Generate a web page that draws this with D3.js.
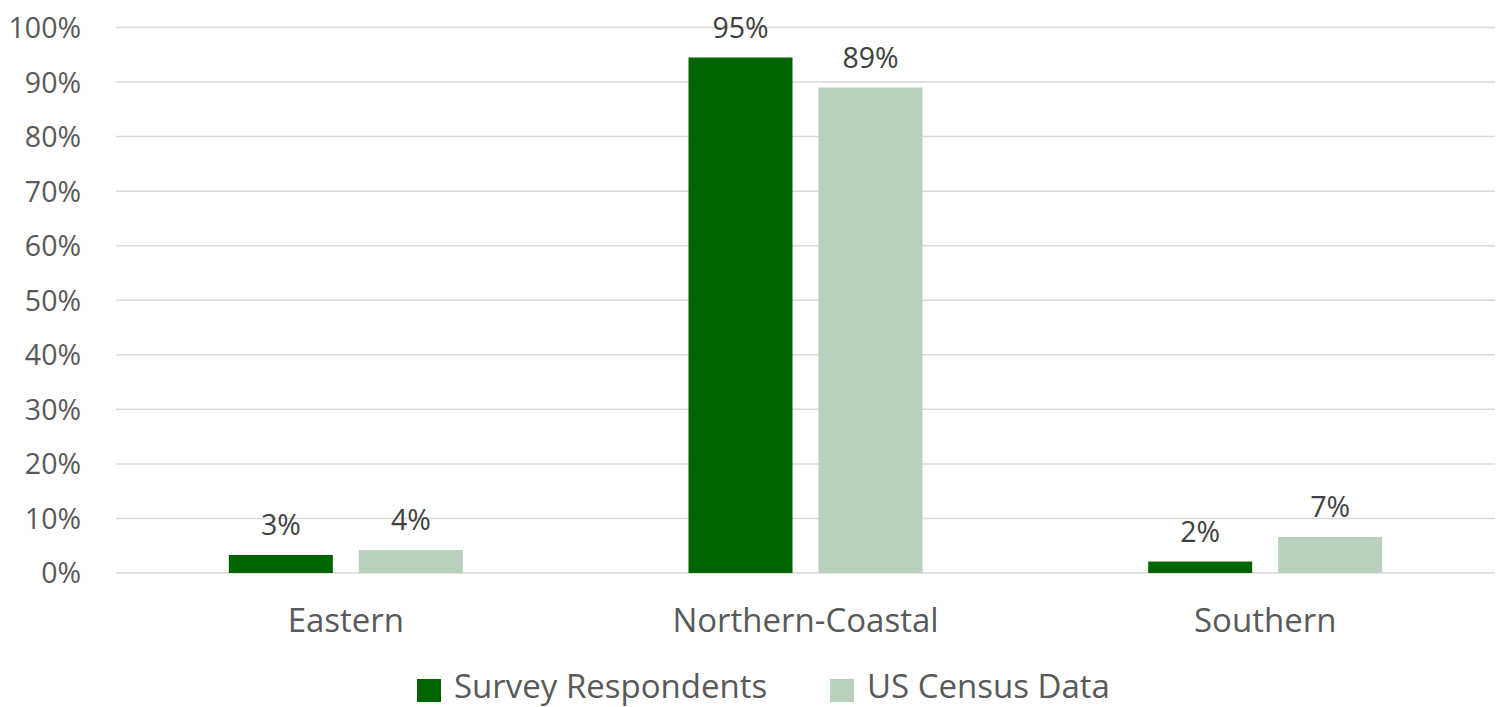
<!DOCTYPE html>
<html>
<head>
<meta charset="utf-8">
<script src="https://cdn.jsdelivr.net/npm/d3@7"></script>
<style>
  html, body { margin: 0; padding: 0; background: #fff; overflow: hidden; }
  svg { display: block; font-family: "Open Sans", Lato, "DejaVu Sans", sans-serif; }
</style>
</head>
<body>
<svg id="chart" width="1504" height="707"></svg>
<script>
// Regional share: survey respondents vs. US census
const regions = ["Eastern", "Northern-Coastal", "Southern"];
const seriesNames = ["Survey Respondents", "US Census Data"];
const surveyValues = [0.033, 0.945, 0.021];
const censusValues = [0.042, 0.890, 0.066];
const yTicks = [0, 0.1, 0.2, 0.3, 0.4, 0.5, 0.6, 0.7, 0.8, 0.9, 1.0];
const colors = ["#006400", "#b9d1bc"];

const rows = regions.map((r, i) => ({ region: r, values: [surveyValues[i], censusValues[i]] }));

const svg = d3.select("#chart");
const plot = { left: 116, right: 1495, top: 27.5, bottom: 573 };

const y = d3.scaleLinear().domain([0, 1]).range([plot.bottom, plot.top]);
const x0 = d3.scaleBand().domain(regions).range([plot.left, plot.right]).padding(0);
const groupW = 234;
const x1 = d3.scaleBand().domain(seriesNames).range([-groupW / 2, groupW / 2])
  .paddingInner(0.2).paddingOuter(0);

const pct = d3.format(".0%");

// gridlines
svg.append("g").selectAll("line").data(yTicks).join("line")
  .attr("x1", plot.left).attr("x2", plot.right)
  .attr("y1", d => y(d)).attr("y2", d => y(d))
  .attr("stroke", "#d9d9d9").attr("stroke-width", 1.5);

// y axis labels
const yAxis = d3.axisLeft(y).tickValues(yTicks).tickFormat(pct).tickSize(0).tickPadding(0);
const yg = svg.append("g").attr("transform", `translate(${plot.left - 35},0)`).call(yAxis);
yg.select(".domain").remove();
yg.selectAll("text").attr("font-size", 28.5).attr("fill", "#595959")
  .attr("font-family", "'Open Sans', sans-serif").attr("dy", "0.35em");

// bars
const groups = svg.append("g").selectAll("g").data(rows).join("g")
  .attr("transform", d => `translate(${x0(d.region) + x0.bandwidth() / 2},0)`);

groups.selectAll("rect").data(d => d.values.map((v, i) => ({ v, s: seriesNames[i], i }))).join("rect")
  .attr("x", d => x1(d.s)).attr("width", x1.bandwidth())
  .attr("y", d => y(d.v)).attr("height", d => y(0) - y(d.v))
  .attr("fill", d => colors[d.i]);

groups.selectAll("text.val").data(d => d.values.map((v, i) => ({ v, s: seriesNames[i], i }))).join("text")
  .attr("class", "val")
  .attr("x", d => x1(d.s) + x1.bandwidth() / 2)
  .attr("y", d => y(d.v) - 20)
  .attr("text-anchor", "middle").attr("font-size", 28.5).attr("fill", "#404040")
  .text(d => pct(d.v));

// x axis category labels
const xAxis = d3.axisBottom(x0).tickSize(0).tickPadding(0);
const xg = svg.append("g").attr("transform", `translate(0,${plot.bottom})`).call(xAxis);
xg.select(".domain").remove();
xg.selectAll("text").attr("font-size", 33).attr("fill", "#595959")
  .attr("font-family", "'Open Sans', sans-serif").attr("dy", 0).attr("y", 59);

// legend
const legendItems = [{ name: seriesNames[0], x: 417 }, { name: seriesNames[1], x: 830 }];
const lg = svg.append("g").selectAll("g").data(legendItems).join("g")
  .attr("transform", d => `translate(${d.x},679)`);
lg.append("rect").attr("width", 24).attr("height", 23).attr("fill", (d, i) => colors[i]);
lg.append("text").attr("x", 37).attr("y", 19)
  .attr("font-size", 33).attr("fill", "#595959").text(d => d.name);
</script>
</body>
</html>
